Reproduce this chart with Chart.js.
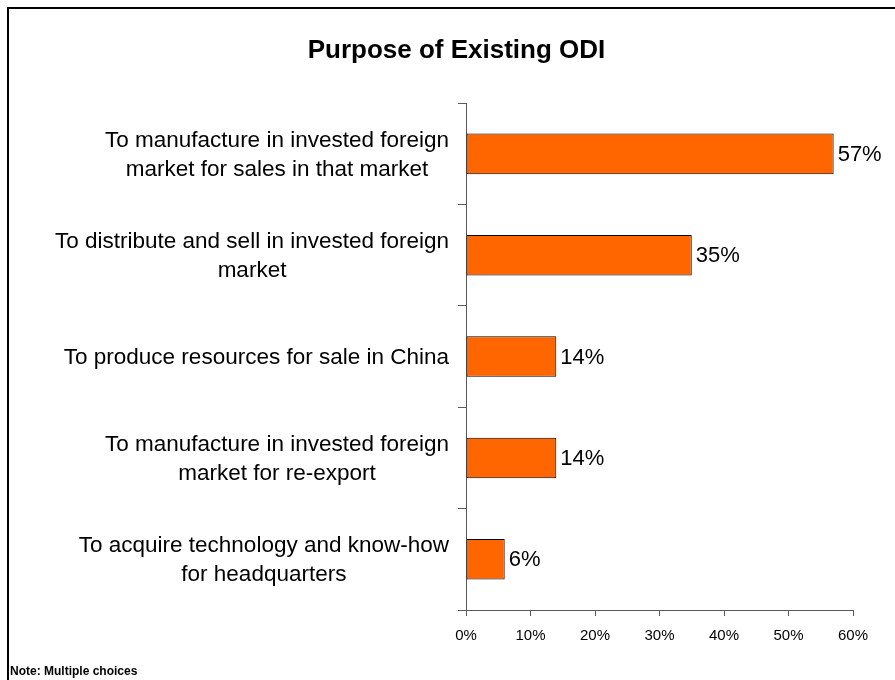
<!DOCTYPE html>
<html>
<head>
<meta charset="utf-8">
<title>Purpose of Existing ODI</title>
<script src="https://cdn.jsdelivr.net/npm/chart.js@4"></script>
<style>
  html, body { margin: 0; padding: 0; background: #fff; }
  canvas { display: block; }
</style>
</head>
<body>
<canvas id="odiChart" width="895" height="680"></canvas>
<script>
var categories = [
    ['To manufacture in invested foreign', 'market for sales in that market'],
    ['To distribute and sell in invested foreign', 'market'],
    ['To produce resources for sale in China'],
    ['To manufacture in invested foreign', 'market for re-export'],
    ['To acquire technology and know-how', 'for headquarters']
];
var shares = [57, 35, 14, 14, 6];
var tickValues = [0, 10, 20, 30, 40, 50, 60];
var noteText = 'Note: Multiple choices';

var fontFamily = '"Liberation Sans", Arial, sans-serif';
var axisGray = '#5a5a5a';

// frame lines along the top and left edge
var framePlugin = {
    id: 'frame',
    beforeDraw: function(chart) {
        var ctx = chart.ctx;
        ctx.save();
        ctx.fillStyle = '#fff';
        ctx.fillRect(0, 0, chart.width, chart.height);
        ctx.strokeStyle = '#000';
        ctx.lineWidth = 2;
        ctx.beginPath();
        ctx.moveTo(8, chart.height);
        ctx.lineTo(8, 8);
        ctx.lineTo(chart.width, 8);
        ctx.stroke();
        ctx.restore();
    }
};

// category names, each block's lines centred on one another
var categoryLabelPlugin = {
    id: 'categoryLabels',
    afterDraw: function(chart) {
        var ctx = chart.ctx;
        var yScale = chart.scales.y;
        var rightEdge = yScale.right - 17;
        var lineHeight = 29;
        ctx.save();
        ctx.font = '22.5px ' + fontFamily;
        ctx.fillStyle = '#000';
        ctx.textAlign = 'center';
        ctx.textBaseline = 'middle';
        for (var i = 0; i < categories.length; i++) {
            var lines = categories[i];
            var widest = 0;
            for (var j = 0; j < lines.length; j++) {
                widest = Math.max(widest, ctx.measureText(lines[j]).width);
            }
            var cx = rightEdge - widest / 2;
            var cy = yScale.getPixelForValue(i) + 1;
            var startY = cy - (lines.length - 1) * lineHeight / 2;
            for (var k = 0; k < lines.length; k++) {
                ctx.fillText(lines[k], cx, startY + k * lineHeight);
            }
        }
        ctx.restore();
    }
};

// percentage next to the end of each bar, plus the footnote
var valueLabelPlugin = {
    id: 'valueLabels',
    afterDatasetsDraw: function(chart) {
        var ctx = chart.ctx;
        var meta = chart.getDatasetMeta(0);
        ctx.save();
        ctx.font = '22px ' + fontFamily;
        ctx.fillStyle = '#000';
        ctx.textAlign = 'left';
        ctx.textBaseline = 'middle';
        meta.data.forEach(function(bar, i) {
            ctx.fillText(shares[i] + '%', bar.x + 4, bar.y + 1);
        });
        ctx.font = 'bold 12px ' + fontFamily;
        ctx.textBaseline = 'alphabetic';
        ctx.fillText(noteText, 10, 675);
        ctx.restore();
    }
};

var ctx = document.getElementById('odiChart').getContext('2d');
var myChart = new Chart(ctx, {
    type: 'bar',
    data: {
        labels: categories,
        datasets: [{
            data: shares,
            backgroundColor: '#ff6600',
            borderColor: '#000',
            borderWidth: 1,
            borderSkipped: false,
            categoryPercentage: 1,
            barPercentage: 0.4
        }]
    },
    options: {
        indexAxis: 'y',
        responsive: false,
        animation: false,
        layout: {
            padding: { left: 60, right: 42, top: 0, bottom: 0 }
        },
        scales: {
            x: {
                min: 0,
                max: 60,
                afterBuildTicks: function(scale) {
                    scale.ticks = tickValues.map(function(v) { return { value: v }; });
                },
                afterFit: function(scale) {
                    scale.height = 70;
                },
                ticks: {
                    callback: function(value) { return value + '%'; },
                    color: '#000',
                    font: { family: fontFamily, size: 15 },
                    padding: 11,
                    maxRotation: 0
                },
                grid: {
                    drawOnChartArea: false,
                    drawTicks: true,
                    tickLength: 6,
                    color: axisGray
                },
                border: { color: axisGray, width: 1 }
            },
            y: {
                afterFit: function(scale) {
                    scale.width = 406;
                },
                ticks: { display: false },
                grid: {
                    offset: true,
                    drawOnChartArea: false,
                    drawTicks: true,
                    tickLength: 8,
                    color: axisGray
                },
                border: { color: axisGray, width: 1 }
            }
        },
        plugins: {
            legend: { display: false },
            tooltip: { enabled: false },
            title: {
                display: true,
                text: 'Purpose of Existing ODI',
                color: '#000',
                font: { family: fontFamily, size: 26, weight: 'bold', lineHeight: 1.2 },
                padding: { top: 35, bottom: 37 }
            }
        }
    },
    plugins: [framePlugin, categoryLabelPlugin, valueLabelPlugin]
});
</script>
</body>
</html>
